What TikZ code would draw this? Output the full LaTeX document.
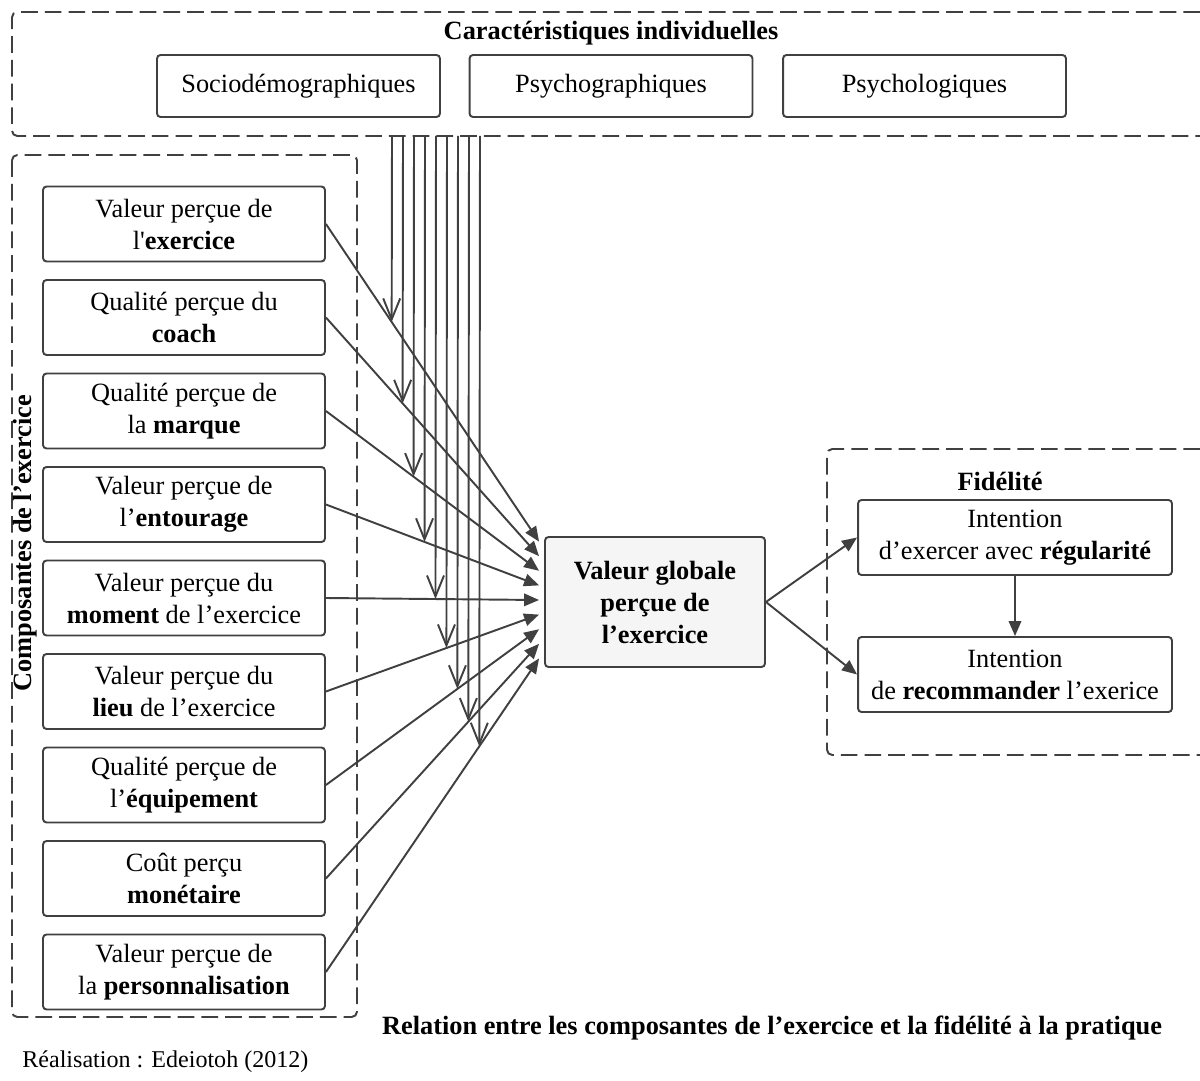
\documentclass[tikz,border=0pt]{standalone}
\usepackage{fontspec}
\setmainfont{Liberation Serif}
\usetikzlibrary{arrows.meta,calc}
\definecolor{linegray}{HTML}{404040}
\definecolor{boxgray}{HTML}{F5F5F5}

\begin{document}
\begin{tikzpicture}[x=0.02cm,y=-0.02cm,
    font=\fontsize{15}{18.2}\selectfont,
    ln/.style={draw=linegray, line width=1.1pt},
    grp/.style={ln, dash pattern=on 9.5pt off 4pt, rounded corners=3pt},
    box/.style={ln, fill=white, rounded corners=2pt, align=center, inner sep=1pt},
    arrowin/.style={ln, -{Triangle[length=0.3cm,width=0.25cm]}},
    mod/.style={ln, -{Straight Barb[length=0.42cm,width=0.34cm]}},
    lbl/.style={font=\fontsize{15}{18.2}\selectfont\bfseries, inner sep=0pt}]
    \useasboundingbox (0,0) rectangle (1200,1081);

    % groups
    \draw[grp] (1200,12) -- (12,12) -- (12,136) -- (1200,136);
    \draw[grp] (12,155) rectangle (357,1017);
    \draw[grp] (1200,449) -- (827,449) -- (827,755) -- (1200,755);

    \node[lbl] (titreCI) at (611,33) {Caractéristiques individuelles};
    \node[lbl, rotate=90] (titreComp) at (25,543) {Composantes de l’exercice};
    \node[lbl] (titreFid) at (1000,481) {Fidélité};

    % individual characteristics
    \node[box, minimum width=5.66cm, minimum height=1.24cm] (socio) at (298.5,86) {Sociodémographiques};
    \node[box, minimum width=5.66cm, minimum height=1.24cm] (psychog) at (611,86) {Psychographiques};
    \node[box, minimum width=5.66cm, minimum height=1.24cm] (psychol) at (924.5,86) {Psychologiques};

    % components
    \foreach \txt [count=\i] in {
        {Valeur perçue de\\l\textquotesingle\textbf{exercice}},
        {Qualité perçue du\\\textbf{coach}},
        {Qualité perçue de\\la \textbf{marque}},
        {Valeur perçue de\\l’\textbf{entourage}},
        {Valeur perçue du\\\textbf{moment} de l’exercice},
        {Valeur perçue du\\\textbf{lieu} de l’exercice},
        {Qualité perçue de\\l’\textbf{équipement}},
        {Coût perçu\\\textbf{monétaire}},
        {Valeur perçue de\\la \textbf{personnalisation}}}
        \node[box, minimum width=5.64cm, minimum height=1.5cm] (v\i) at (184,{224+93.5*(\i-1)}) {\txt};

    % overall value
    \node[box, fill=boxgray, minimum width=4.4cm, minimum height=2.6cm,
        font=\fontsize{15}{18.2}\selectfont\bfseries] (g) at (655,602) {Valeur globale\\perçue de\\l’exercice};

    % loyalty
    \node[box, minimum width=6.28cm, minimum height=1.5cm] (r1) at (1015,537.5) {Intention\\d’exercer avec \textbf{régularité}};
    \node[box, minimum width=6.28cm, minimum height=1.5cm] (r2) at (1015,674.5) {Intention\\de \textbf{recommander} l’exerice};

    % arrows to the overall value
    \foreach \i in {1,...,9}{
        \coordinate (t\i) at ($(g.west)+(-5,{(\i-5)*14.6-2})$);
        \draw[arrowin] (v\i.east) -- (t\i);
    }

    % moderating arrows
    \foreach \i/\xx in {1/392,2/403,3/414,4/425,5/436,6/447,7/458,8/469,9/480}{
        \coordinate (m\i) at (\xx,136);
        \pgfmathsetmacro\rr{(\xx-326)/(540-326)}
        \draw[mod] (m\i) -- ($(v\i.east)!\rr!(t\i)$);
    }

    \draw[arrowin] (g.east) -- (r1.west);
    \draw[arrowin] (g.east) -- (r2.west);
    \draw[arrowin] (r1.south) -- (r2.north);

    \node[lbl] (rel) at (772,1028) {Relation entre les composantes de l’exercice et la fidélité à la pratique};
    \node[anchor=west, inner sep=0pt, font=\fontsize{13.7}{16}\selectfont] (real) at (22,1062) {Réalisation : Edeiotoh (2012)};
\end{tikzpicture}
\end{document}
